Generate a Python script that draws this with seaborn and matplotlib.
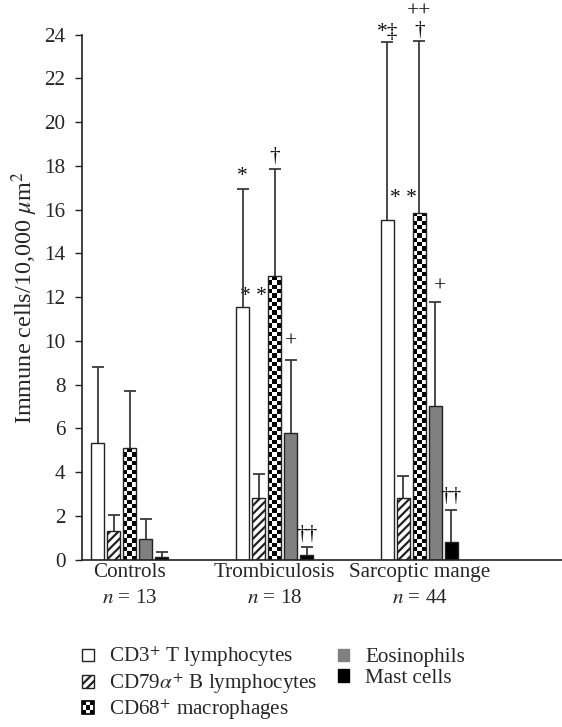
import numpy as np
import pandas as pd
import seaborn as sns
import matplotlib.pyplot as plt
from matplotlib.patches import Patch, Rectangle
from matplotlib.legend_handler import HandlerBase

# data
groups = ["Controls", "Trombiculosis", "Sarcoptic mange"]
group_n = [13, 18, 44]
cells = ["CD3$^{+}$ T lymphocytes", "CD79$\\alpha^{+}$ B lymphocytes",
         "CD68$^{+}$ macrophages", "Eosinophils", "Mast cells"]

cd3_mean = [5.35, 11.57, 15.53]
cd3_upper = [8.82, 16.93, 23.66]
cd79_mean = [1.32, 2.82, 2.80]
cd79_upper = [2.05, 3.91, 3.81]
cd68_mean = [5.10, 12.96, 15.87]
cd68_upper = [7.73, 17.88, 23.72]
eos_mean = [0.96, 5.80, 7.02]
eos_upper = [1.87, 9.11, 11.80]
mast_mean = [0.12, 0.23, 0.82]
mast_upper = [0.35, 0.56, 2.28]

# significance marks: group, bar position (cell index), text, y
marks = [
    ("Trombiculosis", 0, "*", 17.5),
    ("Trombiculosis", 0.7, "* *", 12.05),
    ("Trombiculosis", 2, "\u2020", 18.45),
    ("Trombiculosis", 3, "+", 9.93),
    ("Trombiculosis", 4, "\u2020\u2020", 1.13),
    ("Sarcoptic mange", 0, "*\u2021", 24.1),
    ("Sarcoptic mange", 1, "* *", 16.5),
    ("Sarcoptic mange", 2, "\u2020", 24.2),
    ("Sarcoptic mange", 2, "++", 25.04),
    ("Sarcoptic mange", 3.25, "+", 12.48),
    ("Sarcoptic mange", 4, "\u2020\u2020", 2.88),
]

means = [cd3_mean, cd79_mean, cd68_mean, eos_mean, mast_mean]
uppers = [cd3_upper, cd79_upper, cd68_upper, eos_upper, mast_upper]

rows = []
for c, m in zip(cells, means):
    for g, v in zip(groups, m):
        rows.append({"group": g, "cell": c, "value": v})
df = pd.DataFrame(rows)

sns.set_style("ticks")
plt.rcParams["font.family"] = ["Liberation Serif", "DejaVu Serif"]
plt.rcParams["mathtext.fontset"] = "stix"
plt.rcParams["hatch.linewidth"] = 1.6

fs = 15.2
edge = "#222222"
fig = plt.figure(figsize=(5.62, 7.27), dpi=100)
ax = fig.add_axes([0.1464, 0.2301, 0.8536, 0.7222])

sns.barplot(data=df, x="group", y="value", hue="cell", order=groups,
            hue_order=cells, palette=["white", "white", "black", "#808080", "black"],
            width=0.552, gap=0.19, edgecolor=edge, linewidth=1.0,
            errorbar=None, legend=False, ax=ax)
bars = list(ax.containers)

xlim = (-0.326, 2.983)
ylim = (0, 24)
ax.set_xlim(xlim)
ax.set_ylim(ylim)

# hatched B lymphocytes
for bar in bars[1]:
    bar.set_hatch("////")

# checkerboard macrophages
p0 = ax.transData.transform((0, 0))
p1 = ax.transData.transform((1, 1))
px_x, px_y = p1[0] - p0[0], p1[1] - p0[1]
cell_px = 4.3
for bar in bars[2]:
    x0, w, h = bar.get_x(), bar.get_width(), bar.get_height()
    nc = max(1, int(round(w * px_x / cell_px)))
    nr = max(1, int(round(h * px_y / cell_px)))
    board = np.indices((nr, nc)).sum(axis=0) % 2
    im = ax.imshow(board, cmap="gray", vmin=0, vmax=1, extent=(x0, x0 + w, 0, h),
                   origin="lower", aspect="auto", interpolation="nearest",
                   zorder=bar.get_zorder() - 0.1)
    im.set_clip_path(bar)
    bar.set_facecolor("none")

centers = np.array([[b.get_x() + b.get_width() / 2 for b in cont] for cont in bars])
pitch = centers[1, 0] - centers[0, 0]

# one-sided error bars
for cont, up in zip(bars, uppers):
    xs = [b.get_x() + b.get_width() / 2 for b in cont]
    hs = [b.get_height() for b in cont]
    err = [u - h for u, h in zip(up, hs)]
    _, caps, _ = ax.errorbar(xs, hs, yerr=[[0] * len(hs), err], fmt="none",
                             ecolor="#3a3a3a", elinewidth=1.3, capsize=4,
                             capthick=1.3, zorder=5)
    caps[0].set_visible(False)

# significance marks
for g, pos, txt, y in marks:
    gi = groups.index(g)
    x = centers[0, gi] + pos * pitch
    ax.text(x, y, txt, ha="center", va="center", fontsize=15.5, color="#111111")

ax.set_xlim(xlim)
ax.set_ylim(ylim)
ax.set_yticks(np.arange(0, 25, 2))
ax.set_xticks(range(len(groups)))
ax.set_xticklabels([f"{g}\n$n$ = {n}" for g, n in zip(groups, group_n)])
for lbl in ax.get_xticklabels():
    lbl.set_linespacing(1.5)
ax.tick_params(axis="y", direction="out", length=4.7, width=1.0, color=edge,
               labelsize=fs, pad=7.5)
ax.tick_params(axis="x", length=0, labelsize=fs, pad=2.5)
ax.set_xlabel("")
ax.set_ylabel("Immune cells/10,000 $\\mu$m$^2$", fontsize=17.5)
ax.yaxis.set_label_coords(-0.088, 0.5)
sns.despine(ax=ax)
for s in ("left", "bottom"):
    ax.spines[s].set_linewidth(1.2)
    ax.spines[s].set_color(edge)


class CheckerHandler(HandlerBase):
    def create_artists(self, legend, orig_handle, xdescent, ydescent,
                       width, height, fontsize, trans):
        arts = []
        n = 3
        cw, ch = width / n, height / n
        for i in range(n):
            for j in range(n):
                fc = "black" if (i + j) % 2 == 0 else "white"
                arts.append(Rectangle((-xdescent + i * cw, -ydescent + j * ch), cw, ch,
                                      facecolor=fc, edgecolor="none", transform=trans))
        arts.append(Rectangle((-xdescent, -ydescent), width, height, facecolor="none",
                              edgecolor="black", linewidth=1.2, transform=trans))
        return arts


handles = [Patch(facecolor="white", edgecolor=edge),
           Patch(facecolor="white", edgecolor=edge, hatch="////"),
           Patch(facecolor="black", edgecolor="black"),
           Patch(facecolor="#808080", edgecolor="#808080"),
           Patch(facecolor="black", edgecolor="black")]
fig.legend(handles, cells, loc="upper left", bbox_to_anchor=(0.146, 0.113), ncol=2,
           frameon=False, fontsize=fs, handlelength=0.55, handleheight=0.55,
           handletextpad=0.75, columnspacing=0.95, labelspacing=0.08,
           borderpad=0, borderaxespad=0,
           handler_map={handles[2]: CheckerHandler()})

fig.savefig("out.png", dpi=100)
